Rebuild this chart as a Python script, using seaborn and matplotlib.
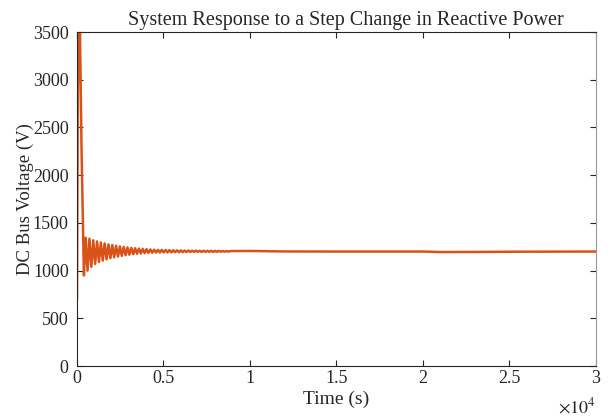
import numpy as np
import pandas as pd
import matplotlib
matplotlib.use("Agg")
import matplotlib.pyplot as plt
import seaborn as sns

time_s = [0, 40, 100, 160, 260, 400,
          500, 610, 720, 830, 940, 1050, 1160, 1270, 1380, 1490,
          1600, 1710, 1820, 1930, 2040, 2150, 2260, 2370, 2480, 2590,
          2700, 2810, 2920, 3030, 3140, 3250, 3360, 3470, 3580, 3690,
          3800, 3910, 4020, 4130, 4240, 4350, 4460, 4570, 4680, 4790,
          4900, 5010, 5120, 5230, 5340, 5450, 5560, 5670, 5780, 5890,
          6000, 6110, 6220, 6330, 6440, 6550, 6660, 6770, 6880, 6990,
          7100, 7210, 7320, 7430, 7540, 7650, 7760, 7870, 7980, 8090,
          8200, 8310, 8420, 8530, 8640, 8750, 8860,
          10000, 12000, 15000, 18000, 20000, 21000,
          23000, 25000, 27000, 30000]
voltage_v = [700, 2600, 3700, 3700, 2300, 950,
             1345, 1000, 1335, 1040, 1318, 1070, 1306, 1090, 1295, 1105,
             1285, 1118, 1275, 1130, 1268, 1140, 1260, 1148, 1254, 1155,
             1248, 1162, 1243, 1167, 1239, 1172, 1235, 1176, 1231, 1180,
             1228, 1183, 1225, 1186, 1222, 1188, 1220, 1189, 1218, 1190,
             1217, 1191, 1216, 1192, 1215, 1192, 1214, 1193, 1213, 1193,
             1212, 1194, 1211, 1194, 1211, 1195, 1210, 1195, 1210, 1196,
             1209, 1196, 1209, 1196, 1208, 1197, 1208, 1197, 1207, 1197,
             1207, 1198, 1206, 1198, 1206, 1199, 1205,
             1206, 1201, 1200, 1200, 1200, 1195,
             1196, 1198, 1199, 1200]

title = "System Response to a Step Change in Reactive Power"
xlabel = "Time (s)"
ylabel = "DC Bus Voltage (V)"
xticks = [0, 5000, 10000, 15000, 20000, 25000, 30000]
xtick_labels = ["0", "0.5", "1", "1.5", "2", "2.5", "3"]
yticks = [0, 500, 1000, 1500, 2000, 2500, 3000, 3500]

df = pd.DataFrame({"t": time_s, "v": voltage_v})

sns.set_style("ticks")
plt.rcParams["font.family"] = ["Liberation Serif", "DejaVu Serif"]
plt.rcParams["mathtext.fontset"] = "stix"

fig = plt.figure(figsize=(6.13, 4.16), dpi=100)
ax = fig.add_axes([0.1256, 0.120, 0.8466, 0.803])
sns.lineplot(data=df, x="t", y="v", ax=ax, color="#D95319", linewidth=1.8)

ax.set_xlim(0, 30000)
ax.set_ylim(0, 3500)
ax.set_xticks(xticks)
ax.set_xticklabels(xtick_labels)
ax.set_yticks(yticks)
ax.tick_params(direction="in", top=True, right=True, labelsize=13, length=4,
               width=0.8, colors="#262626", pad=3)
ax.tick_params(axis="y", pad=6)
for s in ax.spines.values():
    s.set_linewidth(0.8)
    s.set_color("#262626")
ax.spines["right"].set_color("#999999")

ax.set_title(title, fontsize=14.5, pad=5, x=0.518)
ax.set_xlabel(xlabel, fontsize=14)
ax.xaxis.set_label_coords(0.5, -0.073)
ax.set_ylabel(ylabel, fontsize=13.5)
ax.yaxis.set_label_coords(-0.083, 0.5)
ax.text(1.0, -0.093, r"$\times10^{4}$", transform=ax.transAxes,
        ha="right", va="top", fontsize=13, color="#262626")

fig.savefig("out.png", dpi=100)
